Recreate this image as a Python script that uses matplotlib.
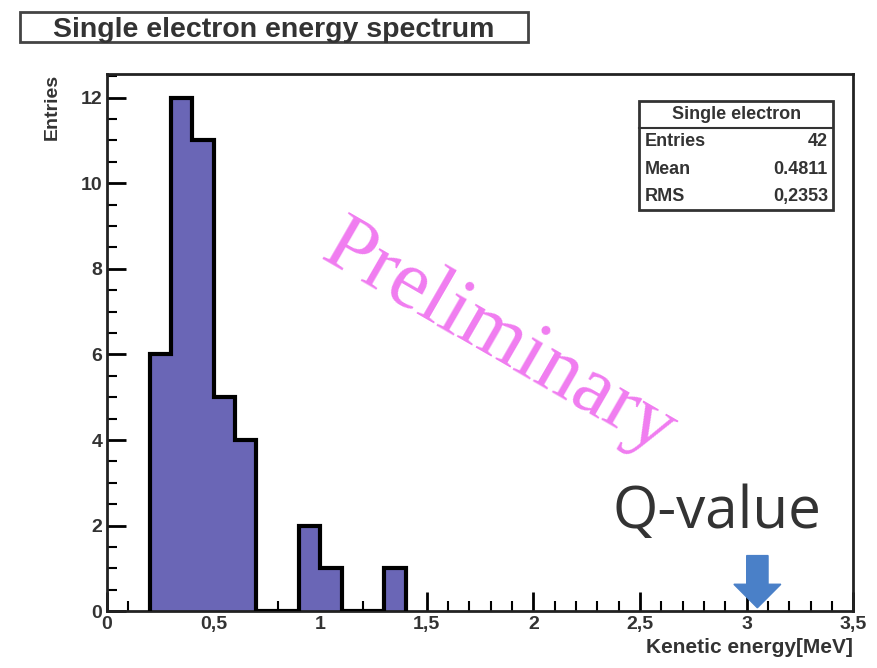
import numpy as np
import matplotlib.pyplot as plt
from matplotlib.ticker import MultipleLocator, FuncFormatter
from matplotlib.patches import FancyArrow

plt.rcParams['font.family'] = ['Liberation Sans', 'DejaVu Sans']

# histogram contents (0.1 MeV bins)
bin_edges = [0.2, 0.3, 0.4, 0.5, 0.6, 0.7, 0.8, 0.9, 1.0, 1.1, 1.2, 1.3, 1.4]
counts = [6, 12, 11, 5, 4, 0, 0, 2, 1, 0, 0, 1]
stat_labels = ['Entries', 'Mean', 'RMS']
stat_values = ['42', '0.4811', '0,2353']
q_value = 3.05

fig = plt.figure(figsize=(8.77, 6.68), dpi=100)
ax = fig.add_axes([0.122, 0.085, 0.851, 0.804])

edges = np.array(bin_edges)
vals = np.array(counts)
ax.bar(edges[:-1], vals, width=np.diff(edges), align='edge', color='#6a66b6',
       edgecolor='none', zorder=2)
# outline like a ROOT histogram
ax.stairs(vals, edges, color='black', lw=3, zorder=3)

ax.set_xlim(0, 3.5)
ax.set_ylim(0, 12.55)
ax.xaxis.set_major_locator(MultipleLocator(0.5))
ax.xaxis.set_minor_locator(MultipleLocator(0.1))
ax.yaxis.set_major_locator(MultipleLocator(2))
ax.yaxis.set_minor_locator(MultipleLocator(0.5))
ax.xaxis.set_major_formatter(FuncFormatter(lambda v, p: ('%g' % v).replace('.', ',')))
ax.tick_params(which='major', direction='in', length=14, width=2, labelsize=14,
               top=False, right=False)
ax.tick_params(which='minor', direction='in', length=7, width=1.5)
for lab in ax.get_xticklabels() + ax.get_yticklabels():
    lab.set_fontweight('bold')
    lab.set_color('#333333')
for sp in ax.spines.values():
    sp.set_linewidth(2)
    sp.set_color('#222222')

ax.set_xlabel('Kenetic energy[MeV]', fontsize=15, fontweight='bold', color='#333333')
ax.xaxis.set_label_coords(1.0, -0.05)
ax.xaxis.label.set_horizontalalignment('right')
ax.set_ylabel('Entries', fontsize=14, fontweight='bold', color='#333333')
ax.yaxis.set_label_coords(-0.085, 1.0)
ax.yaxis.label.set_verticalalignment('top')
ax.yaxis.label.set_horizontalalignment('right')

# title box
fig.patches.append(plt.Rectangle((0.023, 0.937), 0.579, 0.045, transform=fig.transFigure,
                                 fc='white', ec='#444444', lw=2))
fig.text(0.312, 0.9555, 'Single electron energy spectrum', ha='center', va='center',
         fontsize=20.5, fontweight='bold', color='#333333')

# stats box
bx0, bx1, by_top = 0.729, 0.950, 0.849
rowh = 0.041
fig.patches.append(plt.Rectangle((bx0, by_top - 4 * rowh), bx1 - bx0, 4 * rowh,
                                 transform=fig.transFigure, fc='white', ec='#333333', lw=2))
fig.lines.append(plt.Line2D([bx0, bx1], [by_top - rowh, by_top - rowh],
                            transform=fig.transFigure, color='#333333', lw=1.5))
fig.text((bx0 + bx1) / 2, by_top - rowh / 2, 'Single electron', ha='center', va='center',
         fontsize=13, fontweight='bold', color='#333333')
for i, (lab, val) in enumerate(zip(stat_labels, stat_values)):
    y = by_top - (i + 1.5) * rowh
    fig.text(bx0 + 0.006, y, lab, ha='left', va='center', fontsize=13,
             fontweight='bold', color='#333333')
    fig.text(bx1 - 0.006, y, val, ha='right', va='center', fontsize=13,
             fontweight='bold', color='#333333')

# overlaid annotations
ax.text(1.84, 6.35, 'Preliminary', rotation=-30, ha='center', va='center',
        fontsize=60, color='#f07cf0', family='Liberation Serif')
ax.text(2.86, 2.3, 'Q-value', ha='center', va='center', fontsize=42,
        color='#333333', family='Open Sans')
ax.add_patch(FancyArrow(q_value, 1.3, 0, -1.22, width=0.1, head_width=0.22,
                        head_length=0.55, length_includes_head=True,
                        color='#4a80c8', zorder=4))

fig.savefig('out.png', dpi=100)
